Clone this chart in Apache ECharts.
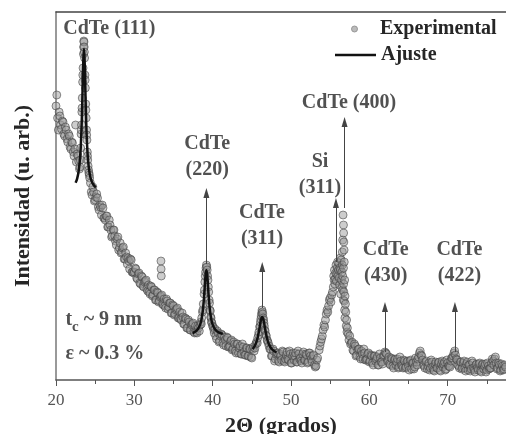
<!DOCTYPE html>
<html>
<head>
<meta charset="utf-8">
<script src="https://cdn.jsdelivr.net/npm/echarts@6/dist/echarts.min.js"></script>
<style>
  html, body { margin: 0; padding: 0; background: #fff; }
  #chart { width: 506px; height: 434px; }
</style>
</head>
<body>
<div id="chart"></div>
<script>
// 2θ axis
const xMin = 20
const xMax = 77.45
const xTicks = [20, 30, 40, 50, 60, 70]
const yMax = 368

// experimental scan, [2θ, counts]
const scan20to23 = [
  [20.0, 274], [20.1, 285], [20.2, 262], [20.3, 250], [20.4, 268], [20.5, 264], [20.6, 255],
  [20.7, 251], [20.8, 259], [20.9, 258], [21.0, 246], [21.1, 244], [21.2, 253], [21.3, 250],
  [21.4, 241], [21.5, 238], [21.6, 246], [21.7, 244], [21.8, 233], [21.9, 231], [22.0, 238],
  [22.1, 237], [22.2, 228], [22.3, 224], [22.4, 231], [22.5, 255], [22.6, 218], [22.7, 226],
  [22.8, 224], [22.9, 219], [23.0, 211], [23.05, 213], [23.1, 220]
]
const peak111 = [
  [23.15, 232], [23.2, 246], [23.22, 250], [23.25, 255], [23.3, 268], [23.32, 272], [23.35, 282],
  [23.4, 298], [23.42, 305], [23.45, 312], [23.5, 326], [23.52, 333], [23.55, 339], [23.57, 338],
  [23.6, 333], [23.62, 328], [23.65, 322], [23.7, 305], [23.72, 300], [23.75, 292], [23.8, 276],
  [23.82, 270], [23.85, 262], [23.9, 250], [23.92, 245], [23.95, 240], [24.0, 228], [24.02, 224],
  [24.05, 220], [24.1, 214], [24.15, 210], [24.2, 207], [24.25, 205], [24.3, 202]
]
const scan24to38 = [
  [24.4, 197], [24.5, 188], [24.6, 185], [24.7, 193], [24.8, 188], [24.9, 179], [25.0, 180],
  [25.1, 183], [25.2, 186], [25.3, 182], [25.4, 173], [25.5, 170], [25.6, 175], [25.7, 173],
  [25.8, 165], [25.9, 175], [26.0, 172], [26.1, 162], [26.2, 162], [26.3, 160], [26.4, 164],
  [26.5, 164], [26.6, 153], [26.7, 153], [26.8, 160], [26.9, 155], [27.0, 150], [27.1, 143],
  [27.2, 144], [27.3, 150], [27.4, 150], [27.5, 144], [27.6, 139], [27.7, 135], [27.8, 141],
  [27.9, 143], [28.0, 130], [28.1, 132], [28.2, 137], [28.3, 127], [28.4, 128], [28.5, 132],
  [28.6, 133], [28.7, 121], [28.8, 121], [28.9, 127], [29.0, 123], [29.1, 116], [29.2, 122],
  [29.3, 119], [29.4, 111], [29.5, 121], [29.6, 120], [29.7, 108], [29.8, 108], [29.9, 107],
  [30.0, 108], [30.1, 112], [30.2, 111], [30.3, 102], [30.4, 101], [30.5, 106], [30.6, 107],
  [30.7, 97], [30.8, 96], [30.9, 104], [31.0, 103], [31.1, 94], [31.2, 93], [31.3, 98],
  [31.4, 99], [31.5, 100], [31.6, 91], [31.7, 89], [31.8, 95], [31.9, 88], [32.0, 86],
  [32.1, 94], [32.2, 93], [32.3, 84], [32.4, 85], [32.5, 90], [32.6, 90], [32.7, 80],
  [32.8, 80], [32.9, 88], [33.0, 87], [33.1, 78], [33.2, 79], [33.3, 83], [33.4, 84],
  [33.4, 119], [33.42, 111], [33.44, 104], [33.5, 85], [33.6, 76], [33.7, 75], [33.8, 81],
  [33.9, 74], [34.0, 72], [34.1, 81], [34.2, 79], [34.3, 71], [34.4, 73], [34.5, 77],
  [34.6, 77], [34.7, 67], [34.8, 67], [34.9, 75], [35.0, 74], [35.1, 65], [35.2, 66],
  [35.3, 70], [35.4, 71], [35.5, 72], [35.6, 62], [35.7, 62], [35.8, 68], [35.9, 61],
  [36.0, 60], [36.1, 67], [36.2, 63], [36.3, 56], [36.4, 56], [36.5, 62], [36.6, 61],
  [36.7, 52], [36.8, 52], [36.9, 60], [37.0, 58], [37.1, 50], [37.2, 50], [37.3, 55],
  [37.4, 56], [37.5, 57], [37.6, 48], [37.7, 47], [37.8, 54], [37.9, 48], [38.0, 47],
  [38.1, 54], [38.2, 52], [38.3, 49], [38.4, 55]
]
const peak220 = [
  [38.5, 58], [38.55, 56], [38.6, 62], [38.7, 68], [38.75, 70], [38.8, 76], [38.9, 86],
  [38.95, 90], [39.0, 98], [39.05, 104], [39.1, 108], [39.15, 112], [39.2, 115], [39.25, 113],
  [39.3, 110], [39.35, 104], [39.4, 100], [39.45, 93], [39.5, 88], [39.55, 80], [39.6, 77],
  [39.65, 70], [39.7, 69], [39.75, 63], [39.8, 62], [39.85, 58], [39.9, 57], [40.0, 54],
  [40.05, 53], [40.15, 50], [40.2, 47]
]
const scan40to45 = [
  [40.3, 51], [40.4, 44], [40.5, 41], [40.6, 49], [40.7, 47], [40.8, 38], [40.9, 39],
  [41.0, 44], [41.1, 46], [41.2, 45], [41.3, 37], [41.4, 35], [41.5, 43], [41.6, 40],
  [41.7, 34], [41.8, 43], [41.9, 42], [42.0, 33], [42.1, 33], [42.2, 34], [42.3, 39],
  [42.4, 40], [42.5, 30], [42.6, 31], [42.7, 38], [42.8, 36], [42.9, 29], [43.0, 27],
  [43.1, 36], [43.2, 36], [43.3, 27], [43.4, 32], [43.5, 34], [43.6, 26], [43.7, 26],
  [43.8, 36], [43.9, 33], [44.0, 28], [44.1, 25], [44.2, 25], [44.3, 32], [44.4, 32],
  [44.5, 24], [44.6, 24], [44.7, 31], [44.8, 31], [44.9, 23], [45.0, 22], [45.1, 31],
  [45.2, 33], [45.3, 29], [45.4, 32], [45.5, 36]
]
const peak311 = [
  [45.6, 38], [45.7, 37], [45.75, 42], [45.85, 45], [45.9, 48], [46.0, 53], [46.05, 54],
  [46.1, 58], [46.15, 61], [46.2, 64], [46.25, 67], [46.3, 70], [46.35, 68], [46.4, 66],
  [46.45, 62], [46.5, 60], [46.55, 57], [46.6, 54], [46.65, 50], [46.7, 49], [46.8, 45],
  [46.85, 44], [46.95, 40], [47.0, 39], [47.1, 37], [47.2, 34], [47.3, 31]
]
const scan47to53 = [
  [47.4, 31], [47.5, 24], [47.6, 24], [47.7, 31], [47.8, 29], [47.9, 19], [48.0, 21],
  [48.1, 26], [48.2, 27], [48.3, 27], [48.4, 19], [48.5, 18], [48.6, 26], [48.7, 24],
  [48.8, 20], [48.9, 29], [49.0, 28], [49.1, 19], [49.2, 18], [49.3, 21], [49.4, 25],
  [49.5, 28], [49.6, 21], [49.7, 20], [49.8, 29], [49.9, 26], [50.0, 17], [50.1, 17],
  [50.2, 24], [50.3, 27], [50.4, 20], [50.5, 24], [50.6, 27], [50.7, 18], [50.8, 18],
  [50.9, 29], [51.0, 26], [51.1, 21], [51.2, 22], [51.3, 19], [51.4, 17], [51.5, 26],
  [51.6, 28], [51.7, 20], [51.8, 20], [51.9, 26], [52.0, 25], [52.1, 17], [52.2, 18],
  [52.3, 27], [52.4, 27], [52.5, 24], [52.6, 21], [52.7, 18], [52.8, 24], [52.9, 25],
  [53.0, 15], [53.1, 13], [53.2, 14], [53.3, 20], [53.4, 22]
]
const peakSi400 = [
  [53.6, 30], [53.7, 34], [53.8, 38], [53.9, 41], [54.0, 44], [54.1, 50], [54.2, 55],
  [54.3, 53], [54.4, 60], [54.5, 66], [54.6, 70], [54.7, 68], [54.8, 74], [54.9, 80],
  [55.0, 82], [55.1, 78], [55.2, 85], [55.3, 88], [55.4, 93], [55.45, 104], [55.5, 100],
  [55.55, 110], [55.6, 96], [55.65, 101], [55.7, 107], [55.75, 115], [55.8, 99], [55.85, 106],
  [55.9, 112], [55.95, 118], [56.0, 104], [56.05, 110], [56.1, 117], [56.15, 102], [56.2, 95],
  [56.25, 112], [56.3, 110], [56.3, 122], [56.35, 86], [56.4, 120], [56.45, 100], [56.5, 92],
  [56.5, 108], [56.55, 128], [56.55, 115], [56.6, 140], [56.6, 104], [56.62, 90], [56.65, 165],
  [56.68, 80], [56.7, 155], [56.7, 112], [56.72, 147], [56.72, 96], [56.75, 138], [56.75, 88],
  [56.78, 130], [56.8, 118], [56.8, 79], [56.85, 100], [56.85, 70], [56.88, 62], [56.9, 84],
  [56.95, 76], [57.0, 68], [57.05, 54], [57.1, 60], [57.15, 48], [57.2, 52], [57.3, 46],
  [57.4, 40], [57.5, 44], [57.6, 36], [57.7, 37]
]
const scan58to77 = [
  [57.8, 38], [57.9, 30], [58.0, 29], [58.1, 36], [58.2, 34], [58.3, 24], [58.4, 25],
  [58.5, 30], [58.6, 31], [58.7, 31], [58.8, 23], [58.9, 21], [59.0, 29], [59.1, 26],
  [59.2, 21], [59.3, 31], [59.4, 27], [59.5, 20], [59.6, 20], [59.7, 21], [59.8, 26],
  [59.9, 27], [60.0, 18], [60.1, 19], [60.2, 25], [60.3, 24], [60.4, 17], [60.5, 15],
  [60.6, 24], [60.7, 24], [60.8, 19], [60.9, 21], [61.0, 23], [61.1, 15], [61.2, 15],
  [61.3, 26], [61.4, 22], [61.5, 18], [61.6, 18], [61.7, 16], [61.8, 24], [61.9, 25],
  [62.0, 28], [62.1, 27], [62.2, 26], [62.3, 19], [62.4, 20], [62.5, 23], [62.6, 16],
  [62.7, 15], [62.8, 22], [62.9, 21], [63.0, 14], [63.1, 12], [63.2, 20], [63.3, 21],
  [63.4, 15], [63.5, 18], [63.6, 21], [63.7, 12], [63.8, 13], [63.9, 23], [64.0, 19],
  [64.1, 15], [64.2, 14], [64.3, 12], [64.4, 20], [64.5, 19], [64.6, 12], [64.7, 13],
  [64.8, 18], [64.9, 19], [65.0, 14], [65.1, 10], [65.2, 19], [65.3, 20], [65.4, 11],
  [65.5, 17], [65.6, 17], [65.7, 11], [65.8, 13], [65.9, 22], [66.0, 18], [66.1, 15],
  [66.2, 21], [66.3, 23], [66.4, 27], [66.5, 29], [66.6, 25], [66.7, 24], [66.8, 20],
  [66.9, 15], [67.0, 14], [67.1, 12], [67.2, 18], [67.3, 19], [67.4, 11], [67.5, 14],
  [67.6, 17], [67.7, 10], [67.8, 12], [67.9, 20], [68.0, 18], [68.1, 13], [68.2, 10],
  [68.3, 9], [68.4, 16], [68.5, 18], [68.6, 12], [68.7, 12], [68.8, 17], [68.9, 18],
  [69.0, 10], [69.1, 9], [69.2, 16], [69.3, 19], [69.4, 13], [69.5, 16], [69.6, 18],
  [69.7, 10], [69.8, 11], [69.9, 20], [70.0, 17], [70.1, 14], [70.2, 14], [70.3, 13],
  [70.4, 19], [70.5, 22], [70.6, 22], [70.7, 24], [70.8, 27], [70.9, 29], [71.0, 25],
  [71.1, 21], [71.2, 20], [71.3, 15], [71.4, 14], [71.5, 12], [71.6, 18], [71.7, 18],
  [71.8, 11], [71.9, 12], [72.0, 17], [72.1, 19], [72.2, 12], [72.3, 9], [72.4, 16],
  [72.5, 18], [72.6, 10], [72.7, 15], [72.8, 15], [72.9, 9], [73.0, 11], [73.1, 19],
  [73.2, 17], [73.3, 12], [73.4, 10], [73.5, 8], [73.6, 15], [73.7, 16], [73.8, 12],
  [73.9, 10], [74.0, 16], [74.1, 17], [74.2, 9], [74.3, 8], [74.4, 15], [74.5, 16],
  [74.6, 11], [74.7, 14], [74.8, 16], [74.9, 8], [75.0, 10], [75.1, 17], [75.2, 14],
  [75.3, 11], [75.4, 12], [75.5, 12], [75.6, 17], [75.7, 21], [75.8, 19], [75.9, 15],
  [76.0, 21], [76.1, 23], [76.2, 17], [76.3, 11], [76.4, 12], [76.5, 17], [76.6, 15],
  [76.7, 9], [76.8, 10], [76.9, 16], [77.0, 14], [77.1, 10], [77.2, 11], [77.3, 15],
  [77.4, 13]
]

// fitted profiles (Ajuste)
const fit111 = [
  [22.5, 197.2], [22.7, 201.4], [22.9, 209.3], [23.1, 225.4], [23.2, 240.1], [23.3, 262.1],
  [23.4, 292.5], [23.5, 322.6], [23.57, 331], [23.65, 320.3], [23.75, 289.2], [23.85, 259.5],
  [23.95, 238.3], [24.1, 219.2], [24.3, 206.3], [24.5, 199.9], [24.8, 195.0], [25.1, 192.6]
]
const fit220 = [
  [37.45, 47.0], [37.8, 48.4], [38.1, 50.7], [38.4, 55.4], [38.6, 61.7], [38.8, 73.7],
  [38.95, 88.6], [39.05, 100.3], [39.2, 110], [39.35, 100.3], [39.45, 88.6], [39.6, 73.7],
  [39.8, 61.7], [40.0, 55.4], [40.3, 50.7], [40.6, 48.4], [40.95, 47.0], [41.3, 46.2]
]
const fit311 = [
  [45.1, 30.9], [45.4, 34.5], [45.65, 39.7], [45.85, 46.4], [46.0, 52.8], [46.15, 59.3],
  [46.33, 63], [46.5, 59.6], [46.65, 53.3], [46.8, 46.8], [47.0, 40.0], [47.25, 34.6],
  [47.55, 31.0], [47.85, 29.0], [48.15, 27.7]
]

// peak markers: arrow position, arrow start, arrow end
const arrowAngle = [39.2, 46.33, 55.74, 56.84, 62.0, 70.93]
const arrowFrom = [116, 72, 118, 172, 28, 28]
const arrowTo = [187, 113, 177, 258, 73, 73]

const peakNames = ['CdTe (111)', 'CdTe\n(220)', 'CdTe\n(311)', 'Si\n(311)', 'CdTe (400)', 'CdTe\n(430)', 'CdTe\n(422)']
const peakNameAngle = [26.8, 39.3, 46.3, 53.7, 57.4, 62.1, 71.5]
const peakNameLevel = [351, 223, 154, 205, 277, 117, 117]

const serif = "'Liberation Serif', 'Times New Roman', 'DejaVu Serif', serif"
const ink = '#262626'

const experimental = [].concat(scan20to23, peak111, scan24to38, peak220, scan40to45,
  peak311, scan47to53, peakSi400, scan58to77)

const chart = echarts.init(document.getElementById('chart'))

const fitSeries = [fit111, fit220, fit311].map(d => ({
  name: 'Ajuste',
  type: 'line',
  data: d,
  showSymbol: false,
  smooth: true,
  lineStyle: { color: '#111', width: 2.5 },
  itemStyle: { color: '#111' },
  z: 4
}))

chart.setOption({
  animation: false,
  grid: { left: 56, right: 0, top: 12, bottom: 54, outerBoundsMode: 'none' },
  legend: [{
    data: ['Experimental'],
    left: 346,
    top: 14,
    icon: 'circle',
    itemWidth: 41,
    itemHeight: 6,
    itemStyle: { color: '#aaa', borderColor: '#888', borderWidth: 1 },
    textStyle: { fontFamily: serif, fontWeight: 'bold', fontSize: 20, color: ink }
  }, {
    data: ['Ajuste'],
    left: 330,
    top: 40,
    icon: 'rect',
    itemWidth: 41,
    itemHeight: 2.5,
    itemStyle: { color: '#111' },
    textStyle: { fontFamily: serif, fontWeight: 'bold', fontSize: 20, color: ink }
  }],
  xAxis: [{
    type: 'value',
    min: xMin,
    max: xMax,
    interval: xTicks[1] - xTicks[0],
    name: '2Θ (grados)',
    nameLocation: 'middle',
    nameGap: 35,
    nameTextStyle: { fontFamily: serif, fontWeight: 'bold', fontSize: 22, color: ink },
    axisLine: { lineStyle: { color: '#555', width: 1.5 } },
    axisTick: { inside: false, length: 6, lineStyle: { color: '#555' } },
    minorTick: { show: true, splitNumber: 2, length: 4, lineStyle: { color: '#555' } },
    axisLabel: { fontFamily: serif, fontSize: 17, color: '#555', margin: 12, showMaxLabel: false },
    splitLine: { show: false }
  }, {
    type: 'value',
    position: 'top',
    min: xMin,
    max: xMax,
    axisLine: { show: true, lineStyle: { color: '#444', width: 1.5 } },
    axisTick: { show: false },
    axisLabel: { show: false },
    splitLine: { show: false }
  }],
  yAxis: {
    type: 'value',
    min: 0,
    max: yMax,
    name: 'Intensidad (u. arb.)',
    nameLocation: 'middle',
    nameGap: 22,
    nameTextStyle: { fontFamily: serif, fontWeight: 'bold', fontSize: 22, color: ink },
    axisLine: { show: true, lineStyle: { color: '#777', width: 1.5 } },
    axisTick: { show: false },
    axisLabel: { show: false },
    splitLine: { show: false }
  },
  series: [{
    name: 'Experimental',
    type: 'scatter',
    data: experimental,
    symbolSize: 8,
    itemStyle: { color: 'rgba(150,150,150,0.6)', borderColor: 'rgba(60,60,60,0.7)', borderWidth: 1 },
    z: 2
  }].concat(fitSeries, [{
    name: 'arrows',
    type: 'line',
    data: [],
    markLine: {
      silent: true,
      symbol: ['none', 'triangle'],
      symbolSize: [6, 10],
      label: { show: false },
      lineStyle: { color: '#444', width: 1, type: 'solid' },
      data: arrowAngle.map((a, i) => [{ coord: [a, arrowFrom[i]] }, { coord: [a, arrowTo[i]] }])
    },
    z: 3
  }, {
    name: 'peaks',
    type: 'scatter',
    symbolSize: 0,
    data: peakNames.map((n, i) => ({ name: n, value: [peakNameAngle[i], peakNameLevel[i]] })),
    label: {
      show: true,
      position: 'inside',
      formatter: '{b}',
      fontFamily: serif,
      fontWeight: 'bold',
      fontSize: 20,
      lineHeight: 26,
      color: ink
    },
    z: 5
  }, {
    name: 'notes',
    type: 'scatter',
    symbolSize: 0,
    data: [
      { name: 'tc', value: [21.2, 60] },
      { name: 'eps', value: [21.2, 26.5] }
    ],
    label: {
      show: true,
      position: 'inside',
      align: 'left',
      formatter: p => p.name === 'tc' ? '{m|t}{s|c}{m| ~ 9 nm}' : '{m|ε ~ 0.3 %}',
      rich: {
        m: { fontFamily: serif, fontWeight: 'bold', fontSize: 20, color: ink, lineHeight: 30, verticalAlign: 'middle' },
        s: { fontFamily: serif, fontWeight: 'bold', fontSize: 15, color: ink, lineHeight: 14, verticalAlign: 'bottom' }
      }
    },
    z: 5
  }])
})
</script>
</body>
</html>
